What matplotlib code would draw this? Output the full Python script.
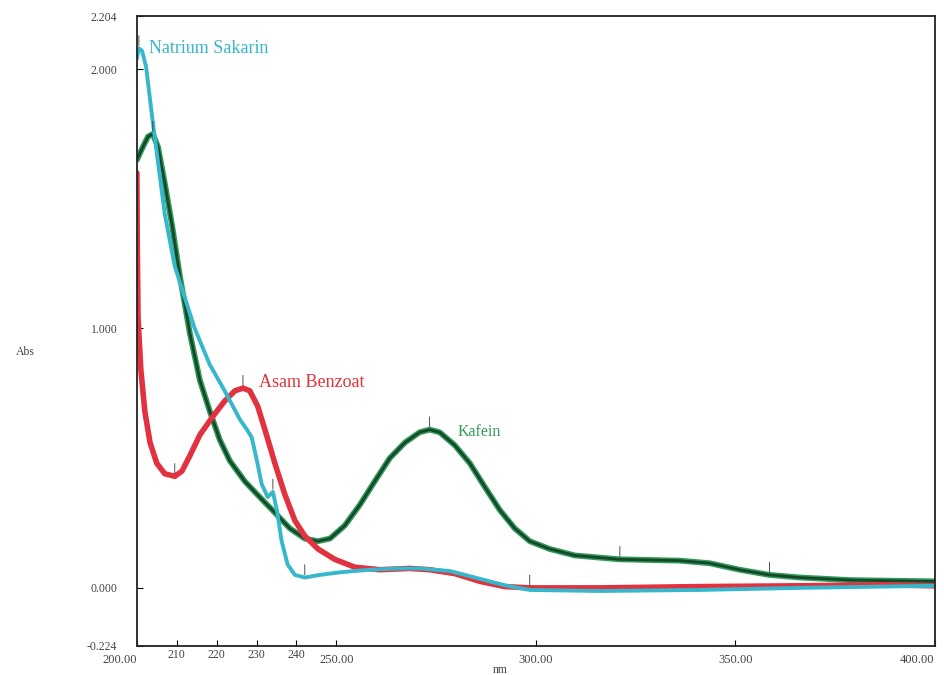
import matplotlib.pyplot as plt

# wavelength (nm) / absorbance
sakarin_nm = [200.0, 200.5, 201.3, 202.3, 203.8, 205.3, 207.0, 209.5, 212.0, 214.5,
              218.3, 222.0, 225.8, 227.6, 228.8, 230.1, 231.3, 232.8, 234.1, 235.1,
              236.3, 237.8, 239.6, 242.1, 245.9, 250.9, 258.4, 265.9, 270.9, 278.4,
              286.0, 292.2, 298.5, 316.0, 341.1, 366.2, 400.0]
sakarin_abs = [2.04, 2.08, 2.07, 2.01, 1.82, 1.64, 1.44, 1.24, 1.12, 1.00,
               0.86, 0.76, 0.65, 0.61, 0.58, 0.49, 0.40, 0.35, 0.37, 0.30,
               0.18, 0.09, 0.05, 0.04, 0.05, 0.06, 0.07, 0.075, 0.075, 0.065,
               0.035, 0.01, -0.008, -0.012, -0.008, 0.0, 0.008]

benzoat_nm = [200.0, 200.1, 200.3, 201.0, 202.0, 203.3, 205.0, 207.0, 209.5, 211.3,
              213.3, 215.8, 219.0, 222.0, 224.6, 226.6, 228.3, 230.3, 232.3, 234.6,
              237.1, 239.6, 242.1, 245.4, 249.6, 254.6, 260.9, 268.4, 273.4, 279.7,
              286.0, 292.2, 298.5, 316.0, 341.1, 366.2, 386.2, 400.0]
benzoat_abs = [1.60, 1.32, 1.04, 0.84, 0.68, 0.56, 0.48, 0.44, 0.43, 0.45,
               0.51, 0.59, 0.66, 0.72, 0.76, 0.77, 0.76, 0.70, 0.60, 0.48,
               0.36, 0.26, 0.20, 0.15, 0.11, 0.08, 0.07, 0.075, 0.07, 0.055,
               0.025, 0.005, 0.0, 0.0, 0.005, 0.008, 0.012, 0.008]

kafein_nm = [200.0, 201.5, 202.8, 204.0, 205.3, 207.0, 208.8, 210.8, 213.3, 215.8,
             218.3, 220.8, 223.3, 227.1, 230.8, 234.6, 238.3, 242.1, 245.4, 248.4,
             252.1, 255.9, 259.6, 263.4, 267.2, 270.9, 273.4, 275.9, 279.7, 283.5,
             287.2, 291.0, 294.7, 298.5, 303.5, 309.8, 321.1, 336.1, 343.6, 351.1,
             358.6, 366.2, 378.7, 400.0]
kafein_abs = [1.65, 1.70, 1.74, 1.75, 1.70, 1.56, 1.40, 1.20, 0.98, 0.80,
              0.68, 0.57, 0.49, 0.41, 0.35, 0.29, 0.23, 0.19, 0.18, 0.19,
              0.24, 0.32, 0.41, 0.50, 0.56, 0.60, 0.61, 0.60, 0.55, 0.48,
              0.39, 0.30, 0.23, 0.18, 0.15, 0.125, 0.11, 0.105, 0.095, 0.07,
              0.05, 0.04, 0.03, 0.025]

y_ticks = [-0.224, 0.0, 1.0, 2.0, 2.204]
y_labels = ["-0.224", "0.000", "1.000", "2.000", "2.204"]
x_ticks = [200, 250, 300, 350, 400]
x_labels = ["200.00", "250.00", "300.00", "350.00", "400.00"]
x_minor = [210, 220, 230, 240]

serif = ["Liberation Serif", "DejaVu Serif"]
grey = "#444444"

fig = plt.figure(figsize=(9.44, 6.75), dpi=100)
ax = fig.add_axes([0.145, 0.043, 0.845, 0.933])

ax.plot(kafein_nm, kafein_abs, color="#2e9b58", lw=4.2, solid_capstyle="round")
ax.plot(kafein_nm, kafein_abs, color="#17472b", lw=2.0)
ax.plot(benzoat_nm, benzoat_abs, color="#e2323f", lw=4.0, solid_capstyle="round")
ax.plot(sakarin_nm, sakarin_abs, color="#36b7cc", lw=2.8, solid_capstyle="round")

ax.set_xlim(200, 400)
ax.set_ylim(-0.224, 2.204)

ax.set_yticks(y_ticks)
ax.set_yticklabels(y_labels, family=serif, fontsize=8.5, color=grey)
ax.set_xticks(x_ticks)
ax.set_xticklabels(x_labels, family=serif, fontsize=9, color=grey)
xl = ax.get_xticklabels()
xl[0].set_horizontalalignment("right")
xl[-1].set_horizontalalignment("right")
ax.set_xticks(x_minor, minor=True)
ax.set_xticklabels([str(v) for v in x_minor], minor=True, family=serif,
                   fontsize=8.5, color=grey)
ax.tick_params(axis="both", which="both", direction="in", length=4, width=0.8)
ax.tick_params(axis="y", pad=14)
ax.tick_params(axis="x", which="major", pad=6)
ax.tick_params(axis="x", which="minor", pad=2)

for s in ax.spines.values():
    s.set_linewidth(1.3)
    s.set_color("#222222")

fig.text(500 / 944, 1 - 670 / 675, "nm", family=serif, fontsize=8.5,
         color=grey, ha="center", va="center")
fig.text(25 / 944, 1 - 352 / 675, "Abs", family=serif, fontsize=8.5,
         color=grey, ha="center", va="center")

ax.text(203.0, 2.08, "Natrium Sakarin", family=serif, fontsize=13,
        color="#36b7cc", va="center")
ax.text(230.5, 0.79, "Asam Benzoat", family=serif, fontsize=13,
        color="#e2323f", va="center")
ax.text(280.5, 0.60, "Kafein", family=serif, fontsize=11.5,
        color="#2e9b58", va="center")

# small peak / valley markers as on the instrument printout
marks = [(200.5, 2.08), (204.0, 1.75), (226.6, 0.77), (273.4, 0.61),
         (234.1, 0.37), (209.5, 0.43), (242.1, 0.04), (298.5, 0.0),
         (321.1, 0.11), (358.6, 0.05)]
for mx, my in marks:
    ax.annotate("", xy=(mx, my), xytext=(mx, my + 0.06),
                arrowprops=dict(arrowstyle="-", color="#333333", lw=0.6))

plt.savefig("out.png", dpi=100)
